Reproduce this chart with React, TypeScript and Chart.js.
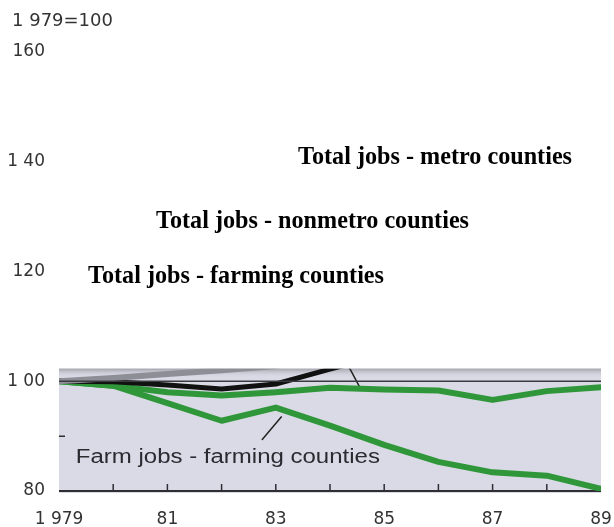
import React, { useEffect, useRef } from "react";
import { Chart, registerables } from "chart.js";

Chart.register(...registerables);

const years = [1979, 1980, 1981, 1982, 1983, 1984, 1985, 1986, 1987, 1988, 1989];
const farmJobsFarming = [100, 99.2, 96.0, 92.8, 95.2, 91.9, 88.4, 85.3, 83.4, 82.8, 80.4];
const totalJobsFarming = [100, 99.2, 98.0, 97.4, 98.0, 98.8, 98.5, 98.3, 96.6, 98.2, 98.9];
const nonmetroYears = [1979, 1980, 1981, 1982, 1983, 1984, 1985];
const totalJobsNonmetro = [100, 99.9, 99.3, 98.6, 99.5, 102.2, 104.8];
const metroYears = [1979, 1980, 1981, 1982, 1983, 1984];
const totalJobsMetro = [100, 100.6, 101.3, 102.0, 102.8, 104.0];

const yTickValues = [80, 100, 120, 140, 160];
const yTickLabels = ["80", "1 00", "120", "1 40", "160"];
const xTickValues = [1979, 1981, 1983, 1985, 1987, 1989];
const xTickLabels = ["1 979", "81", "83", "85", "87", "89"];
const baseLabel = "1 979=100";
const photoTop = 102.3;
const photoTickYears = [1980, 1981, 1982, 1983, 1984, 1985, 1986, 1987, 1988];

const seriesLabels = [
  { text: "Total jobs - metro counties", x: 298, y: 157 },
  { text: "Total jobs - nonmetro counties", x: 156, y: 221 },
  { text: "Total jobs - farming counties", x: 88, y: 276 },
];
const farmLabel = { text: "Farm jobs - farming counties", x: 1979.31, y: 85.1 };
const pointerFarm = [{ x: 1983.1, y: 93.5 }, { x: 1982.75, y: 89.4 }];
const pointerTop = [{ x: 1984.35, y: 102.6 }, { x: 1984.55, y: 98.9 }];

const pts = (xs: number[], ys: number[]) => xs.map((x, i) => ({ x, y: ys[i] }));

const photoPlugin = {
  id: "photo",
  beforeDatasetsDraw(chart: any) {
    const { ctx, chartArea, scales } = chart;
    const x = scales.x, y = scales.y;
    const top = y.getPixelForValue(photoTop);
    const bottom = y.getPixelForValue(80);
    const left = chartArea.left, right = chartArea.right;
    ctx.save();
    ctx.fillStyle = "#d9dae5";
    ctx.fillRect(left, top, right - left, bottom - top + 2);
    const g = ctx.createLinearGradient(0, top, 0, top + 9);
    g.addColorStop(0, "#a4a4ac");
    g.addColorStop(1, "rgba(217,218,229,0)");
    ctx.fillStyle = g;
    ctx.fillRect(left, top, right - left, 9);
    ctx.strokeStyle = "#2e2e33";
    ctx.lineWidth = 2;
    ctx.beginPath();
    ctx.moveTo(left, bottom);
    ctx.lineTo(right, bottom);
    ctx.stroke();
    ctx.lineWidth = 1.5;
    ctx.beginPath();
    for (const yr of photoTickYears) {
      const px = x.getPixelForValue(yr);
      ctx.moveTo(px, bottom);
      ctx.lineTo(px, bottom - 7);
    }
    const p90 = y.getPixelForValue(90);
    ctx.moveTo(left, p90);
    ctx.lineTo(left + 6, p90);
    ctx.stroke();
    ctx.restore();
    ctx.save();
    ctx.beginPath();
    ctx.rect(left, top, right - left, bottom - top);
    ctx.clip();
  },
  afterDatasetsDraw(chart: any) {
    const { ctx, scales } = chart;
    ctx.restore();
    ctx.save();
    ctx.fillStyle = "#2a2a30";
    ctx.font = "20px 'Liberation Sans'";
    ctx.textBaseline = "alphabetic";
    const px = scales.x.getPixelForValue(farmLabel.x);
    const py = scales.y.getPixelForValue(farmLabel.y);
    ctx.translate(px, py);
    ctx.scale(1.2, 1);
    ctx.fillText(farmLabel.text, 0, 0);
    ctx.restore();
  },
  afterDraw(chart: any) {
    const { ctx } = chart;
    ctx.save();
    ctx.fillStyle = "#333";
    ctx.font = "18px 'DejaVu Sans'";
    ctx.textBaseline = "middle";
    ctx.fillText(baseLabel, 12, 21);
    ctx.fillStyle = "#000";
    ctx.font = "bold 26px 'Liberation Serif'";
    for (const l of seriesLabels) {
      ctx.save();
      ctx.translate(l.x, l.y);
      ctx.scale(0.93, 1);
      ctx.fillText(l.text, 0, 0);
      ctx.restore();
    }
    ctx.restore();
  },
};

export default function App() {
  const ref = useRef<HTMLCanvasElement>(null);
  useEffect(() => {
    document.body.style.margin = "0";
    const chart = new Chart(ref.current!, {
      type: "line",
      data: {
        datasets: [
          { data: [{ x: 1979, y: 100 }, { x: 1989, y: 100 }], borderColor: "#3a3a40", borderWidth: 1.5 },
          { data: pts(metroYears, totalJobsMetro), borderColor: "#8e8e96", borderWidth: 6 },
          { data: pts(nonmetroYears, totalJobsNonmetro), borderColor: "#111", borderWidth: 5 },
          { data: pts(years, totalJobsFarming), borderColor: "#2f973a", borderWidth: 6 },
          { data: pts(years, farmJobsFarming), borderColor: "#2f973a", borderWidth: 6 },
          { data: pointerFarm, borderColor: "#222", borderWidth: 1.5 },
          { data: pointerTop, borderColor: "#222", borderWidth: 1.5 },
        ] as any,
      },
      options: {
        animation: false,
        responsive: false,
        maintainAspectRatio: false,
        events: [],
        elements: { point: { radius: 0 }, line: { tension: 0, borderJoinStyle: "round", borderCapStyle: "round" } },
        layout: { padding: { top: 52, right: 13, left: 0, bottom: 0 } },
        plugins: { legend: { display: false }, tooltip: { enabled: false }, title: { display: false } },
        scales: {
          x: {
            type: "linear",
            min: 1979,
            max: 1989,
            grid: { display: false },
            border: { display: false },
            afterFit: (s: any) => { s.height = 36; s.paddingLeft = 0; s.paddingRight = 0; },
            afterBuildTicks: (s: any) => { s.ticks = xTickValues.map((v) => ({ value: v })); },
            ticks: {
              padding: 10,
              maxRotation: 0,
              autoSkip: false,
              color: "#333",
              font: { family: "'DejaVu Sans'", size: 17 },
              callback: (v: any) => xTickLabels[xTickValues.indexOf(v)] ?? "",
            },
          },
          y: {
            min: 80,
            max: 160,
            grid: { display: false },
            border: { display: false },
            afterFit: (s: any) => { s.width = 59; },
            afterBuildTicks: (s: any) => { s.ticks = yTickValues.map((v) => ({ value: v })); },
            ticks: {
              padding: 6,
              color: "#333",
              font: { family: "'DejaVu Sans'", size: 17 },
              callback: (v: any) => yTickLabels[yTickValues.indexOf(v)] ?? "",
            },
          },
        },
      },
      plugins: [photoPlugin],
    });
    return () => chart.destroy();
  }, []);
  return (
    <div style={{ position: "absolute", left: 0, top: 0, width: 614, height: 527, background: "#fff" }}>
      <canvas ref={ref} width={614} height={527} style={{ width: 614, height: 527 }} />
    </div>
  );
}
